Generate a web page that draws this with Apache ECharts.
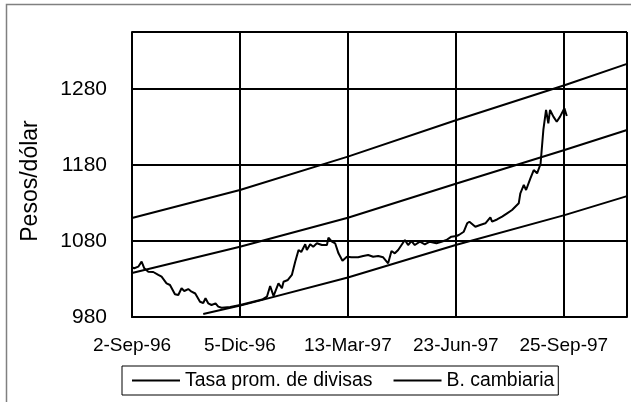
<!DOCTYPE html>
<html>
<head>
<meta charset="utf-8">
<script src="https://cdn.jsdelivr.net/npm/echarts@6/dist/echarts.min.js"></script>
<style>
html,body{margin:0;padding:0;background:#fff;}
#c{width:631px;height:402px;}
</style>
</head>
<body>
<div id="c"></div>
<script>
// Tick labels (trading-day position units, one label every 100 units)
const xTickPos = [0, 100, 200, 300, 400];
const xTickLabels = ['2-Sep-96', '5-Dic-96', '13-Mar-97', '23-Jun-97', '25-Sep-97'];
const yTicks = [980, 1080, 1180, 1280];

// Tasa promedio de divisas
const tasaPos = [0, 2.1, 5.8, 8.9, 11.4, 15.1, 19.7, 24.4, 27.4, 32, 35.2, 39.8, 42.9, 45.9, 48.4, 52.1, 55.2, 58.6, 63, 66,
  68.1, 70.6, 73.7, 77.4, 79.9, 83, 91, 100.3, 109.5, 120.6, 125, 128, 131.1, 135.7, 138.9, 140.4, 144.4, 148.1, 151.2, 154.3,
  156.8, 160.5, 162, 165.1, 167.9, 171.3, 175.9, 180.6, 182, 185.2, 188.2, 191.3, 195, 199.1, 203.3, 209.5, 214.2, 218.8, 223.4, 228.1,
  232.7, 237.3, 240.4, 243.5, 246.6, 252.8, 255.8, 258.9, 262, 266.7, 271.3, 275.9, 282, 286.7, 291.3, 295.9, 300.6, 302.8, 307.4, 310.5,
  312.6, 318.1, 322.5, 327.4, 332, 333.6, 338.2, 342.9, 347.5, 352.1, 358.3, 359.8, 363, 365.1, 369.1, 372.2, 375.3, 378.5, 381.1, 383.6,
  385.7, 387.3, 390.4, 393.5, 396.6, 400.6, 402.8];
const tasaValues = [1045.4, 1044.1, 1046.2, 1052.8, 1044.1, 1039.6, 1039.2, 1035.3, 1033, 1024.3, 1022.1, 1009.9, 1008.9, 1017.8, 1014.2, 1016.8, 1013.3, 1010.9, 1000.1, 998.4,
  1004.6, 998, 995.8, 998, 993.6, 992.2, 993.2, 995.8, 999.1, 1003, 1006.7, 1020.8, 1007.6, 1024.3, 1017.8, 1026.4, 1028.7, 1035.3, 1052.8, 1068.2,
  1065.5, 1075.7, 1068.2, 1075.7, 1072.5, 1077, 1074.7, 1074.7, 1084.3, 1079.1, 1077, 1063.8, 1054.1, 1059.3, 1058.6, 1058.6, 1060.3, 1061.6, 1059.3, 1060.3,
  1058.6, 1050.7, 1066.8, 1063.8, 1068.2, 1081.3, 1074.7, 1080, 1074.7, 1079.1, 1075.7, 1079.1, 1077, 1079.1, 1081.3, 1085.7, 1086.6, 1087.9, 1092.2, 1103.3,
  1105.4, 1098.8, 1101.1, 1103.3, 1111.2, 1105.4, 1108.3, 1112, 1116.4, 1120.8, 1129.6, 1142.8, 1153.7, 1147.1, 1162.5, 1173.4, 1169.1, 1181.3, 1226.1, 1252.4,
  1234.9, 1252.4, 1243.6, 1237, 1243.6, 1254.6, 1244.5];

// Banda cambiaria
const bandPos = [0, 100, 200, 300.7, 400.7, 458.6];
const upperBand = [1110.3, 1147, 1191, 1239.2, 1285, 1313];
const centerBand = [1037.9, 1072.5, 1110.5, 1155.7, 1199.7, 1226];
const lowerPos = [66, 100.3, 200, 300.7, 400.7, 458.6];
const lowerBand = [984, 995, 1032, 1075, 1114, 1139];

const FONT = 'Liberation Sans, Arial, sans-serif';
const zip = (xs, ys) => xs.map((x, i) => [x, ys[i]]);

const chart = echarts.init(document.getElementById('c'), null, {renderer: 'canvas'});
const lineBase = {type: 'line', showSymbol: false, symbol: 'none', animation: false,
  lineStyle: {color: '#000', width: 2}, itemStyle: {color: '#000'}};

chart.setOption({
  animation: false,
  textStyle: {fontFamily: FONT, color: '#000'},
  graphic: [{
    type: 'rect', silent: true, z: -1,
    shape: {x: 6.5, y: 4.5, width: 640, height: 420},
    style: {fill: 'none', stroke: '#808080', lineWidth: 1.5}
  }],
  grid: {left: 132, top: 32, right: 4, bottom: 85},
  xAxis: {
    type: 'value', min: 0, max: 458.6, interval: 100,
    axisLine: {show: true, lineStyle: {color: '#000', width: 2}},
    axisTick: {show: false},
    splitLine: {show: true, lineStyle: {color: '#000', width: 2}},
    axisLabel: {
      margin: 19, fontSize: 19, color: '#000', fontFamily: FONT,
      showMaxLabel: false,
      formatter: v => { const i = xTickPos.indexOf(v); return i >= 0 ? xTickLabels[i] : ''; }
    }
  },
  yAxis: {
    type: 'value', min: 980, max: 1355, interval: 100,
    name: 'Pesos/dólar', nameLocation: 'middle', nameGap: 90,
    nameTextStyle: {fontSize: 23, color: '#000', fontFamily: FONT, padding: [0, 13, 0, 0]},
    axisLine: {show: true, lineStyle: {color: '#000', width: 2}},
    axisTick: {show: false},
    splitLine: {show: true, lineStyle: {color: '#000', width: 2}},
    axisLabel: {
      margin: 25, fontSize: 21, color: '#000', fontFamily: FONT,
      formatter: v => yTicks.indexOf(v) >= 0 ? String(v) : ''
    }
  },
  legend: {
    data: ['Tasa prom. de divisas', 'B. cambiaria'],
    left: 122, top: 366,
    borderColor: '#000', borderWidth: 1,
    padding: [5, 4, 5, 10],
    itemGap: 21, itemWidth: 48, itemHeight: 2,
    icon: 'rect',
    textStyle: {fontSize: 19.4, color: '#000', fontFamily: FONT},
    selectedMode: false
  },
  series: [
    Object.assign({}, lineBase, {name: 'Tasa prom. de divisas', data: zip(tasaPos, tasaValues)}),
    Object.assign({}, lineBase, {name: 'B. cambiaria', data: zip(bandPos, upperBand)}),
    Object.assign({}, lineBase, {name: 'B. cambiaria', data: zip(bandPos, centerBand)}),
    Object.assign({}, lineBase, {name: 'B. cambiaria', data: zip(lowerPos, lowerBand)})
  ]
});
</script>
</body>
</html>
